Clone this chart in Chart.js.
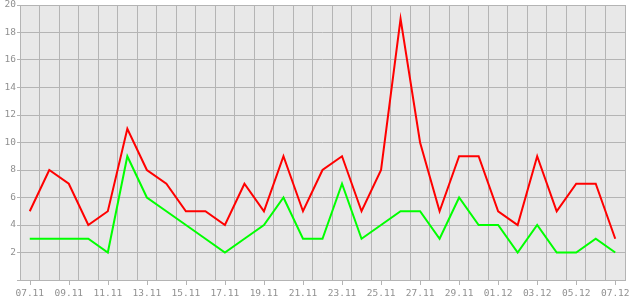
<!DOCTYPE html>
<html>
<head>
<meta charset="utf-8">
<script src="https://cdn.jsdelivr.net/npm/chart.js@4"></script>
<style>
  html, body { margin: 0; padding: 0; background: #ffffff; }
  #wrap { width: 630px; height: 300px; }
</style>
</head>
<body>
<div id="wrap"><canvas id="line_chart" width="630" height="300"></canvas></div>
<script>
// dias 07.11 - 07.12
const labels = ['07.11','08.11','09.11','10.11','11.11','12.11','13.11','14.11','15.11','16.11',
    '17.11','18.11','19.11','20.11','21.11','22.11','23.11','24.11','25.11','26.11',
    '27.11','28.11','29.11','30.11','01.12','02.12','03.12','04.12','05.12','06.12','07.12'];
const redValues = [5, 8, 7, 4, 5, 11, 8, 7, 5, 5, 4, 7, 5, 9, 5, 8, 9, 5, 8, 19,
    10, 5, 9, 9, 5, 4, 9, 5, 7, 7, 3];
const greenValues = [3, 3, 3, 3, 2, 9, 6, 5, 4, 3, 2, 3, 4, 6, 3, 3, 7, 3, 4, 5,
    5, 3, 6, 4, 4, 2, 4, 2, 2, 3, 2];
const yTicks = [2, 4, 6, 8, 10, 12, 14, 16, 18, 20];

const gridColor = '#b4b4b4';
const textColor = '#909090';
const fontFam = '"DejaVu Sans Mono", monospace';

// fondo gris del area y marcas de x
const plotBg = {
    id: 'plotBg',
    beforeDraw(chart) {
        const a = chart.chartArea;
        const ctx = chart.ctx;
        ctx.save();
        ctx.fillStyle = '#e8e8e8';
        ctx.fillRect(a.left, a.top, a.right - a.left, a.bottom - a.top);
        ctx.restore();
    },
    afterDraw(chart) {
        const a = chart.chartArea;
        const ctx = chart.ctx;
        const x = chart.scales.x;
        ctx.save();
        ctx.strokeStyle = gridColor;
        ctx.lineWidth = 1;
        ctx.beginPath();
        for (let i = 0; i < labels.length; i += 2) {
            const px = Math.round(x.getPixelForValue(i)) + 0.5;
            ctx.moveTo(px, a.bottom);
            ctx.lineTo(px, a.bottom + 5);
        }
        ctx.stroke();
        ctx.strokeRect(a.left + 0.5, a.top + 0.5, a.right - a.left, a.bottom - a.top);
        ctx.restore();
    }
};

const config = {
    type: 'line',
    data: {
        labels: labels,
        datasets: [{
            label: 'red',
            data: redValues,
            borderColor: '#ff0000',
            borderWidth: 2,
            pointRadius: 0,
            tension: 0,
            order: 1
        }, {
            label: 'green',
            data: greenValues,
            borderColor: '#00ff00',
            borderWidth: 2,
            pointRadius: 0,
            tension: 0,
            order: 2
        }]
    },
    options: {
        responsive: false,
        animation: false,
        layout: { padding: { top: 5, right: 5, left: 0, bottom: 0 } },
        plugins: { legend: { display: false }, tooltip: { enabled: false } },
        scales: {
            x: {
                offset: true,
                grid: { offset: true, color: gridColor, drawTicks: false },
                border: { display: false },
                ticks: {
                    autoSkip: false,
                    maxRotation: 0,
                    padding: 8,
                    color: textColor,
                    font: { family: fontFam, size: 9.5 },
                    callback: (v, i) => (i % 2 === 0 ? labels[i] : '')
                },
                afterFit: (s) => { s.height = 20; s.paddingLeft = 0; s.paddingRight = 0; }
            },
            y: {
                min: 0,
                max: 20,
                afterBuildTicks: (s) => { s.ticks = [0].concat(yTicks).map(v => ({ value: v })); },
                grid: { color: gridColor, drawTicks: true, tickLength: 3 },
                border: { display: false },
                ticks: {
                    padding: 1,
                    color: textColor,
                    font: { family: fontFam, size: 9.5 },
                    callback: (v) => (v === 0 ? '' : v)
                },
                afterFit: (s) => { s.width = 20; s.paddingTop = 0; s.paddingBottom = 0; }
            }
        }
    },
    plugins: [plotBg]
};

new Chart(document.getElementById('line_chart').getContext('2d'), config);
</script>
</body>
</html>
